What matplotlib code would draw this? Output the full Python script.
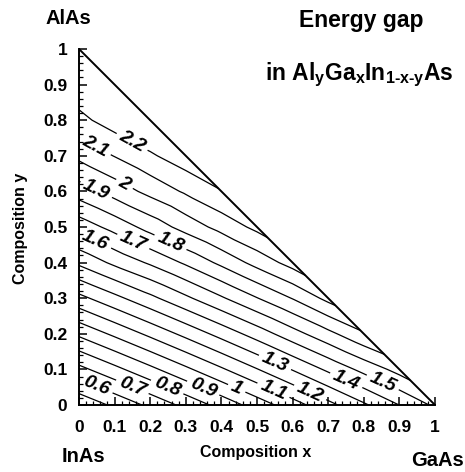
import numpy as np
import matplotlib
matplotlib.use("Agg")
import matplotlib.pyplot as plt
import matplotlib.tri as mtri
from matplotlib.ticker import MultipleLocator, FuncFormatter

plt.rcParams["font.family"] = ["Liberation Sans", "DejaVu Sans"]
plt.rcParams["mathtext.fontset"] = "custom"
plt.rcParams["mathtext.rm"] = "Liberation Sans:bold"
plt.rcParams["mathtext.it"] = "Liberation Sans:bold"
plt.rcParams["mathtext.bf"] = "Liberation Sans:bold"

# Ga fraction x of each grid column
ga_fraction = [0.0, 0.1, 0.2, 0.3, 0.4, 0.5, 0.6, 0.7, 0.8, 0.9, 1.0]
# Al fraction y step inside a column (y = 0, 0.1, ... up to 1 - x)
al_step = 0.1
# Energy gap (eV) along each column, from y = 0 up to the AlGaAs edge
gap_columns = [
    [0.42, 0.67, 0.92, 1.17, 1.42, 1.64, 1.85, 2.025, 2.171, 2.27, 2.36],
    [0.521, 0.771, 1.021, 1.271, 1.523, 1.736, 1.942, 2.104, 2.25, 2.33],
    [0.624, 0.874, 1.124, 1.374, 1.615, 1.838, 2.03, 2.185, 2.31],
    [0.729, 0.979, 1.229, 1.48, 1.716, 1.939, 2.115, 2.26],
    [0.836, 1.086, 1.336, 1.587, 1.824, 2.036, 2.195],
    [0.945, 1.195, 1.445, 1.696, 1.936, 2.126],
    [1.056, 1.306, 1.559, 1.805, 2.04],
    [1.169, 1.419, 1.671, 1.93],
    [1.284, 1.53, 1.787],
    [1.401, 1.636],
    [1.52],
]
# Contour levels (eV)
gap_levels = [0.5, 0.6, 0.7, 0.8, 0.9, 1.0, 1.1, 1.2, 1.3, 1.4, 1.5,
              1.6, 1.7, 1.8, 1.9, 2.0, 2.1, 2.2]
# Binary end members
corner_names = ["InAs", "GaAs", "AlAs"]
corner_x = [0.0, 1.0, 0.0]
corner_y = [0.0, 0.0, 1.0]
tick_values = [0.0, 0.1, 0.2, 0.3, 0.4, 0.5, 0.6, 0.7, 0.8, 0.9, 1.0]

# where the contour labels sit
label_spots = [
    (0.05, 0.056), (0.152, 0.056), (0.25, 0.056), (0.35, 0.05),
    (0.447, 0.056), (0.55, 0.05), (0.655, 0.048), (0.556, 0.132),
    (0.755, 0.079), (0.854, 0.065), (0.05, 0.472), (0.152, 0.458),
    (0.256, 0.455), (0.045, 0.598), (0.129, 0.623), (0.045, 0.725),
    (0.152, 0.744),
]

# flatten the composition grid
px, py, pz = [], [], []
for xv, col in zip(ga_fraction, gap_columns):
    for k, ev in enumerate(col):
        px.append(xv)
        py.append(round(k * al_step, 10))
        pz.append(ev)
px, py, pz = np.array(px), np.array(py), np.array(pz)

W, H = 465, 472
fig = plt.figure(figsize=(W / 100, H / 100), dpi=100)
ax = fig.add_axes([79 / W, 1 - 405 / H, 356 / W, 356 / H])

tri = mtri.Triangulation(px, py)
cs = ax.tricontour(tri, pz, levels=gap_levels, colors="black",
                   linewidths=0.9)


def fmt_level(v):
    return f"{v:g}"


label_size = 14
texts = ax.clabel(cs, manual=label_spots, inline=True, inline_spacing=4,
                  fmt=fmt_level, fontsize=label_size)
for t in texts:
    t.set_fontstyle("italic")
    t.set_fontweight("bold")
    t.set_fontsize(label_size)

# AlGaAs edge of the composition triangle (AlAs -> GaAs)
ax.plot([corner_x[2], corner_x[1]], [corner_y[2], corner_y[1]],
        color="black", lw=1.4, clip_on=False, solid_capstyle="butt")

ax.set_xlim(0, 1)
ax.set_ylim(0, 1)
for side in ("top", "right"):
    ax.spines[side].set_visible(False)
for side in ("left", "bottom"):
    ax.spines[side].set_linewidth(1.4)

ax.set_xticks(tick_values)
ax.set_yticks(tick_values)
ax.xaxis.set_minor_locator(MultipleLocator(0.02))
ax.yaxis.set_minor_locator(MultipleLocator(0.02))
tick_fmt = FuncFormatter(lambda v, _: f"{v:g}")
ax.xaxis.set_major_formatter(tick_fmt)
ax.yaxis.set_major_formatter(tick_fmt)
ax.tick_params(which="major", direction="in", length=6, width=1.1,
               labelsize=12.5)
ax.tick_params(which="minor", direction="in", length=3, width=0.9)
ax.tick_params(axis="y", which="major", pad=8.5)
ax.tick_params(axis="x", which="major", pad=10.5)
for lab in ax.get_xticklabels() + ax.get_yticklabels():
    lab.set_fontweight("bold")

fig.text(256 / W, 1 - 453 / H, "Composition x", ha="center", va="center",
         fontsize=11.5, fontweight="bold")
fig.text(20 / W, 1 - 228 / H, "Composition y", ha="center", va="center",
         rotation=90, fontsize=11.5, fontweight="bold")

corner_pos = {"InAs": (83, 457), "GaAs": (437, 460), "AlAs": (68, 18)}
for name in corner_names:
    cx, cy = corner_pos[name]
    fig.text(cx / W, 1 - cy / H, name, ha="center", va="center",
             fontsize=14.5, fontweight="bold")

fig.text(361 / W, 1 - 27 / H, "Energy gap", ha="center", va="baseline",
         fontsize=16.5, fontweight="bold")
fig.text(359.5 / W, 1 - 80 / H,
         r"in Al$_{\mathrm{y}}$Ga$_{\mathrm{x}}$In$_{\mathrm{1\text{-}x\text{-}y}}$As",
         ha="center", va="baseline", fontsize=16.5, fontweight="bold")

fig.savefig("out.png", dpi=100)
